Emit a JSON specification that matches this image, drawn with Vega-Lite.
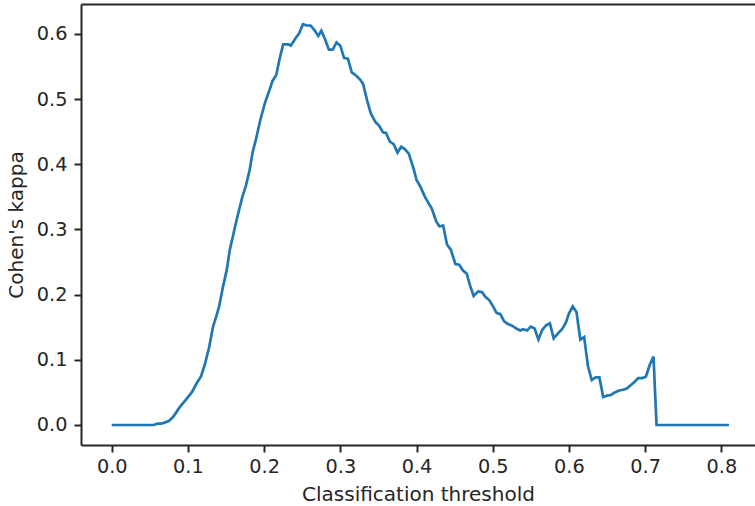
{
  "$schema": "https://vega.github.io/schema/vega-lite/v6.json",
  "width": 674,
  "height": 441,
  "autosize": {"type": "none"},
  "padding": {"left": 81, "top": 4, "right": 0, "bottom": 61},
  "background": "white",
  "data": {"values": [
    {"t":0,"k":0},{"t":0.01,"k":0},{"t":0.02,"k":0},{"t":0.03,"k":0},{"t":0.04,"k":0},{"t":0.05,"k":0},{"t":0.055,"k":0},
    {"t":0.06,"k":0.002},{"t":0.065,"k":0.002},{"t":0.07,"k":0.004},{"t":0.075,"k":0.006},{"t":0.081,"k":0.013},{"t":0.089,"k":0.027},
    {"t":0.0975,"k":0.039},{"t":0.105,"k":0.05},{"t":0.1115,"k":0.064},{"t":0.117,"k":0.074},{"t":0.122,"k":0.092},{"t":0.128,"k":0.12},
    {"t":0.133,"k":0.151},{"t":0.137,"k":0.166},{"t":0.141,"k":0.182},{"t":0.146,"k":0.212},{"t":0.151,"k":0.238},{"t":0.155,"k":0.269},
    {"t":0.164,"k":0.315},{"t":0.171,"k":0.348},{"t":0.176,"k":0.367},{"t":0.181,"k":0.391},{"t":0.185,"k":0.419},{"t":0.189,"k":0.437},
    {"t":0.195,"k":0.468},{"t":0.201,"k":0.494},{"t":0.208,"k":0.517},{"t":0.211,"k":0.528},{"t":0.216,"k":0.537},{"t":0.22,"k":0.56},
    {"t":0.225,"k":0.584},{"t":0.232,"k":0.584},{"t":0.235,"k":0.582},{"t":0.241,"k":0.593},{"t":0.246,"k":0.601},{"t":0.251,"k":0.615},
    {"t":0.256,"k":0.613},{"t":0.261,"k":0.613},{"t":0.266,"k":0.606},{"t":0.271,"k":0.597},{"t":0.275,"k":0.605},{"t":0.28,"k":0.592},
    {"t":0.285,"k":0.576},{"t":0.29,"k":0.576},{"t":0.295,"k":0.587},{"t":0.3,"k":0.582},{"t":0.305,"k":0.563},{"t":0.31,"k":0.562},
    {"t":0.315,"k":0.541},{"t":0.321,"k":0.536},{"t":0.326,"k":0.53},{"t":0.33,"k":0.523},{"t":0.335,"k":0.499},{"t":0.34,"k":0.478},
    {"t":0.346,"k":0.465},{"t":0.351,"k":0.459},{"t":0.356,"k":0.449},{"t":0.36,"k":0.448},{"t":0.365,"k":0.435},{"t":0.37,"k":0.431},
    {"t":0.375,"k":0.418},{"t":0.38,"k":0.427},{"t":0.385,"k":0.423},{"t":0.39,"k":0.416},{"t":0.396,"k":0.394},{"t":0.4,"k":0.376},
    {"t":0.405,"k":0.366},{"t":0.411,"k":0.35},{"t":0.42,"k":0.332},{"t":0.426,"k":0.312},{"t":0.43,"k":0.305},{"t":0.435,"k":0.306},
    {"t":0.44,"k":0.277},{"t":0.445,"k":0.269},{"t":0.451,"k":0.247},{"t":0.456,"k":0.246},{"t":0.461,"k":0.237},{"t":0.466,"k":0.232},
    {"t":0.47,"k":0.215},{"t":0.475,"k":0.198},{"t":0.481,"k":0.205},{"t":0.486,"k":0.204},{"t":0.49,"k":0.197},{"t":0.496,"k":0.191},
    {"t":0.501,"k":0.181},{"t":0.505,"k":0.172},{"t":0.51,"k":0.17},{"t":0.515,"k":0.159},{"t":0.52,"k":0.155},{"t":0.526,"k":0.152},
    {"t":0.531,"k":0.148},{"t":0.536,"k":0.145},{"t":0.54,"k":0.147},{"t":0.545,"k":0.145},{"t":0.55,"k":0.151},{"t":0.555,"k":0.148},
    {"t":0.56,"k":0.131},{"t":0.565,"k":0.146},{"t":0.57,"k":0.153},{"t":0.575,"k":0.156},{"t":0.58,"k":0.133},{"t":0.586,"k":0.141},
    {"t":0.591,"k":0.147},{"t":0.596,"k":0.157},{"t":0.6,"k":0.171},{"t":0.605,"k":0.182},{"t":0.61,"k":0.173},{"t":0.615,"k":0.131},
    {"t":0.62,"k":0.135},{"t":0.625,"k":0.09},{"t":0.63,"k":0.069},{"t":0.635,"k":0.073},{"t":0.64,"k":0.073},{"t":0.645,"k":0.043},
    {"t":0.65,"k":0.045},{"t":0.655,"k":0.046},{"t":0.66,"k":0.05},{"t":0.666,"k":0.053},{"t":0.671,"k":0.054},{"t":0.676,"k":0.056},
    {"t":0.681,"k":0.061},{"t":0.686,"k":0.066},{"t":0.691,"k":0.072},{"t":0.696,"k":0.072},{"t":0.701,"k":0.074},{"t":0.706,"k":0.092},
    {"t":0.711,"k":0.105},{"t":0.715,"k":0},{"t":0.75,"k":0},{"t":0.78,"k":0},{"t":0.81,"k":0}
  ]},
  "layer": [
    {
      "mark": {"type": "line", "color": "#1f77b4", "strokeWidth": 2.7, "interpolate": "linear"},
      "encoding": {
        "x": {"field": "t", "type": "quantitative", "title": "Classification threshold",
              "scale": {"domain": [-0.0403, 0.8442], "nice": false, "zero": false},
              "axis": {"orient": "bottom", "values": [0,0.1,0.2,0.3,0.4,0.5,0.6,0.7,0.8], "format": ".1f", "labelFlush": false, "labelPadding": 5, "titlePadding": 8}},
        "y": {"field": "k", "type": "quantitative", "title": "Cohen's kappa",
              "scale": {"domain": [-0.0307, 0.646], "nice": false, "zero": false},
              "axis": {"values": [0,0.1,0.2,0.3,0.4,0.5,0.6], "format": ".1f", "labelPadding": 7, "titlePadding": 10}}
      }
    },
    {
      "mark": {"type": "line", "opacity": 0},
      "encoding": {
        "x": {"field": "t", "type": "quantitative",
              "axis": {"orient": "top", "labels": false, "ticks": false, "title": null}},
        "y": {"field": "k", "type": "quantitative"}
      }
    }
  ],
  "resolve": {"axis": {"x": "independent"}},
  "config": {
    "view": {"stroke": null},
    "axis": {
      "grid": false,
      "domainColor": "#262626", "domainWidth": 2,
      "tickColor": "#262626", "tickWidth": 2, "tickSize": 7,
      "labelFont": "DejaVu Sans", "labelFontSize": 19.3, "labelColor": "#262626",
      "titleFont": "DejaVu Sans", "titleFontSize": 20, "titleFontWeight": "normal", "titleColor": "#262626"
    }
  }
}
